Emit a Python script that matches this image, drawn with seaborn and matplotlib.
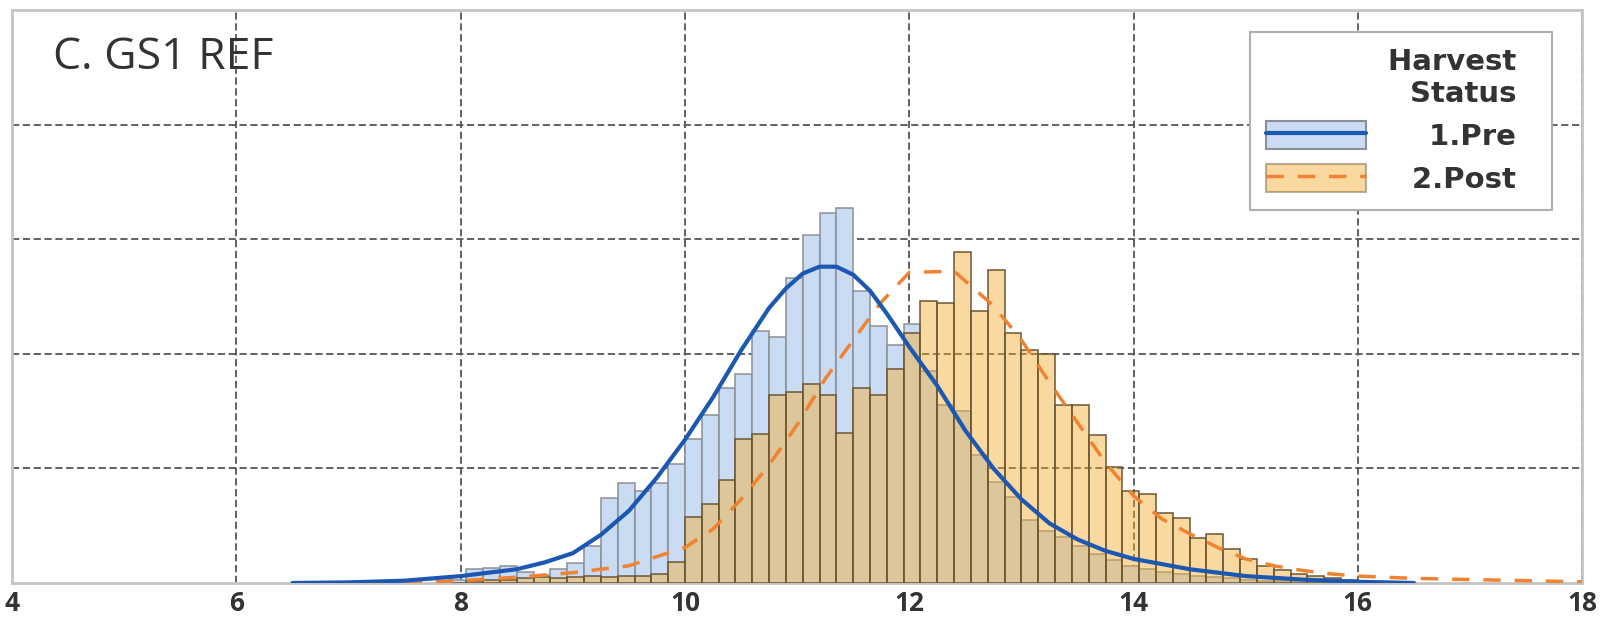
import numpy as np
import pandas as pd
import matplotlib
matplotlib.use("Agg")
import matplotlib.pyplot as plt
import seaborn as sns
from matplotlib.patches import Patch
from matplotlib.lines import Line2D

# --- data (y in grid units, one grid step = 1) ---
bin_start = 7.9
bin_width = 0.15
pre_counts = [0.03, 0.12, 0.13, 0.15, 0.10, 0.07, 0.12, 0.17, 0.32, 0.74,
              0.87, 0.80, 0.87, 1.04, 1.26, 1.47, 1.70, 1.82, 2.20, 2.15,
              2.66, 3.04, 3.23, 3.27, 2.55, 2.24, 2.08, 2.26, 1.85, 1.55,
              1.50, 1.12, 0.88, 0.75, 0.55, 0.45, 0.40, 0.32, 0.25, 0.20,
              0.15, 0.12, 0.10, 0.08, 0.06, 0.05, 0.04, 0.03, 0.02, 0.02,
              0.01, 0.01, 0.0, 0.0, 0.0, 0.0]
post_counts = [0.0, 0.02, 0.03, 0.03, 0.04, 0.05, 0.04, 0.05, 0.06, 0.05,
               0.06, 0.06, 0.08, 0.18, 0.58, 0.69, 0.90, 1.26, 1.30, 1.64,
               1.67, 1.74, 1.64, 1.31, 1.70, 1.64, 1.87, 2.18, 2.46, 2.44,
               2.89, 2.37, 2.73, 2.18, 2.03, 2.00, 1.55, 1.55, 1.29, 1.01,
               0.80, 0.78, 0.61, 0.57, 0.39, 0.43, 0.30, 0.21, 0.15, 0.11,
               0.08, 0.06, 0.04, 0.03, 0.02, 0.01]

pre_kde_x = [6.5, 7.0, 7.5, 8.0, 8.5, 8.75, 9.0, 9.25, 9.5, 9.75, 10.0, 10.25,
             10.5, 10.75, 10.9, 11.05, 11.2, 11.35, 11.5, 11.65, 11.8, 12.0,
             12.25, 12.5, 12.75, 13.0, 13.25, 13.5, 13.75, 14.0, 14.5, 15.0,
             15.5, 16.0, 16.5]
pre_kde_y = [0.0, 0.005, 0.02, 0.06, 0.12, 0.18, 0.26, 0.42, 0.63, 0.92, 1.25,
             1.62, 2.03, 2.40, 2.57, 2.70, 2.76, 2.76, 2.69, 2.55, 2.35, 2.06,
             1.72, 1.33, 1.0, 0.73, 0.52, 0.38, 0.28, 0.21, 0.12, 0.06,
             0.03, 0.01, 0.0]

post_kde_x = [7.5, 8.0, 8.5, 9.0, 9.5, 10.0, 10.25, 10.5, 10.75, 11.0, 11.25,
              11.5, 11.75, 12.0, 12.4, 12.75, 13.0, 13.25, 13.5, 13.75, 14.0,
              14.25, 14.5, 14.75, 15.0, 15.25, 15.5, 15.75, 16.0, 16.5, 17.0,
              17.5, 18.0]
post_kde_y = [0.0, 0.02, 0.05, 0.09, 0.15, 0.31, 0.47, 0.73, 1.03, 1.38, 1.78,
              2.12, 2.45, 2.71, 2.72, 2.42, 2.12, 1.75, 1.40, 1.05, 0.76,
              0.56, 0.43, 0.31, 0.21, 0.15, 0.11, 0.08, 0.06, 0.04, 0.03,
              0.02, 0.01]

groups = ["1.Pre", "2.Post"]
x_ticks = [4, 6, 8, 10, 12, 14, 16, 18]

edges = bin_start + bin_width * np.arange(len(pre_counts) + 1)
centers = edges[:-1] + bin_width / 2
pre_df = pd.DataFrame({"x": centers, "w": pre_counts})
post_df = pd.DataFrame({"x": centers, "w": post_counts})

pre_fill, pre_edge, pre_line = "#c9dcf4", "#8b8f96", "#1c58b2"
post_fill, post_edge, post_line = "#f5ac2e", "#6a5634", "#f08232"
post_alpha = 0.45

sns.set_theme(style="white")
plt.rcParams["font.family"] = ["Open Sans", "DejaVu Sans"]

fig = plt.figure(figsize=(16.12, 6.28), dpi=100)
ax = fig.add_axes([0.0075, 0.0717, 0.974, 0.9124])

sns.histplot(data=pre_df, x="x", weights="w", bins=list(edges), color=pre_fill,
             alpha=1, edgecolor=pre_edge, linewidth=1.1, ax=ax, zorder=2)
sns.histplot(data=post_df, x="x", weights="w", bins=list(edges), color=post_fill,
             alpha=post_alpha, edgecolor=post_edge, linewidth=1.1, ax=ax, zorder=3)
sns.lineplot(x=pre_kde_x, y=pre_kde_y, color=pre_line, lw=3, ax=ax, zorder=5)
sns.lineplot(x=post_kde_x, y=post_kde_y, color=post_line, lw=2.5, ax=ax, zorder=4,
             linestyle=(0, (5, 4)))

ax.set_xlim(4, 18)
ax.set_ylim(0, 5)
ax.set_xticks(x_ticks)
ax.set_yticks([1, 2, 3, 4])
ax.set_yticklabels([])
ax.set_xlabel("")
ax.set_ylabel("")
ax.grid(True, color="#555555", linestyle=(0, (4, 2)), linewidth=1.3, zorder=0)
ax.set_axisbelow(True)
ax.tick_params(axis="x", length=0, pad=5, labelsize=19, labelcolor="#333333")
ax.tick_params(axis="y", length=0)
for lab in ax.get_xticklabels():
    lab.set_fontweight("bold")
for sp in ax.spines.values():
    sp.set_color("#c4c4c4")
    sp.set_linewidth(2)

ax.text(0.026, 0.955, "C. GS1 REF", transform=ax.transAxes, fontsize=32,
        color="#333333", va="top", ha="left")

handles = [
    (Patch(facecolor=pre_fill, edgecolor=pre_edge, linewidth=1.5),
     Line2D([], [], color=pre_line, lw=3)),
    (Patch(facecolor=post_fill, edgecolor=post_edge, linewidth=1.5, alpha=post_alpha),
     Line2D([], [], color=post_line, lw=2.5, linestyle=(0, (5, 4)))),
]
leg_font = {"family": "DejaVu Sans", "weight": "bold", "size": 21}
leg = ax.legend(handles, [g + "  " for g in groups], title="Harvest  \nStatus  ",
                loc="upper right", bbox_to_anchor=(0.981, 0.962), borderaxespad=0,
                prop=leg_font, title_fontproperties=leg_font, alignment="right",
                handlelength=3.4, handleheight=1.1, handletextpad=1.6,
                labelspacing=0.45, borderpad=0.55, fancybox=False,
                edgecolor="#b0b0b0", framealpha=1)
leg.get_frame().set_linewidth(1.5)
leg.get_title().set_color("#333333")
leg.get_title().set_multialignment("right")
for t in leg.get_texts():
    t.set_color("#333333")

# right-align the entry labels
fig.canvas.draw()
r = fig.canvas.get_renderer()
widths = [t.get_window_extent(r).width for t in leg.get_texts()]
for t, w in zip(leg.get_texts(), widths):
    t.set_position((max(widths) - w, 0))

fig.savefig("out.png", dpi=100)
